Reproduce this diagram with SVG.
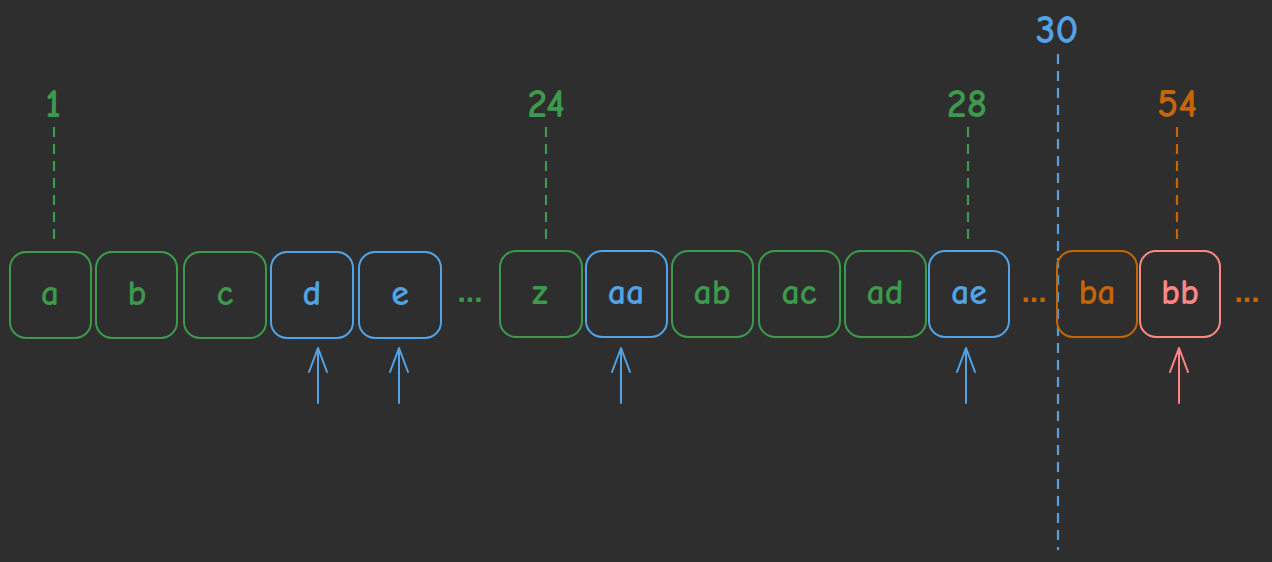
<svg xmlns="http://www.w3.org/2000/svg" width="1272" height="562" viewBox="0 0 1272 562">
<style>
.bg{fill:#2e2e2e}
.box{fill:none;stroke-width:2}
.g{stroke:#3d9a4c}
.b{stroke:#52a3e6}
.o{stroke:#c46508}
.r{stroke:#ff8787}
.t{font-family:"Comic Neue","Liberation Sans",sans-serif;font-size:36px;font-weight:bold;text-anchor:middle;dominant-baseline:central}
.tg{fill:#3d9a4c}.tb{fill:#52a3e6}.to{fill:#c46508}.tr{fill:#ff8787}
.num{font-family:"Comic Neue","Liberation Sans",sans-serif;font-size:40px;font-weight:bold;text-anchor:middle}
.dash{fill:none;stroke-width:2.2;stroke-dasharray:10 7}
.arr{fill:none;stroke-width:2;stroke-linecap:round;stroke-linejoin:round}
.dots{font-family:"Liberation Sans",sans-serif;font-size:30px;font-weight:bold;text-anchor:middle}
</style>
<rect class="bg" x="0" y="0" width="1272" height="562"/>
<g id="connectors">
<path class="dash g" d="M54 127V243"/>
<path class="dash g" d="M546 127V243"/>
<path class="dash g" d="M968 127V243"/>
<path class="dash o" d="M1177 127V243"/>
<path class="dash b" d="M1058 54V550"/>
<path class="arr b" d="M318 403V348M309 372L318 348L327 372"/>
<path class="arr b" d="M399 403V348M390 372L399 348L408 372"/>
<path class="arr b" d="M621 403V348M612 372L621 348L630 372"/>
<path class="arr b" d="M966 403V348M957 372L966 348L975 372"/>
<path class="arr r" d="M1179 403V348M1170 372L1179 348L1188 372"/>
</g>
<g id="label-1"><text class="num tg" x="53" y="117">1</text></g>
<g id="label-24"><text class="num tg" x="546" y="117">24</text></g>
<g id="label-28"><text class="num tg" x="967" y="117">28</text></g>
<g id="label-54"><text class="num to" x="1177" y="117">54</text></g>
<g id="label-30"><text class="num tb" x="1057" y="43">30</text></g>
<g id="node-a"><rect class="box g" x="10" y="252" width="81" height="86" rx="16"/><text class="t tg" x="50" y="293">a</text></g>
<g id="node-b"><rect class="box g" x="96" y="252" width="81" height="86" rx="16"/><text class="t tg" x="137" y="293">b</text></g>
<g id="node-c"><rect class="box g" x="184" y="252" width="82" height="86" rx="16"/><text class="t tg" x="225" y="293">c</text></g>
<g id="node-d"><rect class="box b" x="271" y="252" width="82" height="86" rx="16"/><text class="t tb" x="312" y="293">d</text></g>
<g id="node-e"><rect class="box b" x="359" y="252" width="82" height="86" rx="16"/><text class="t tb" x="400" y="293">e</text></g>
<g id="dots-1"><text class="dots tg" x="470" y="302">...</text></g>
<g id="node-z"><rect class="box g" x="500" y="251" width="82" height="86" rx="16"/><text class="t tg" x="540" y="292">z</text></g>
<g id="node-aa"><rect class="box b" x="586" y="251" width="81" height="86" rx="16"/><text class="t tb" x="626" y="292">aa</text></g>
<g id="node-ab"><rect class="box g" x="672" y="251" width="81" height="86" rx="16"/><text class="t tg" x="712" y="292">ab</text></g>
<g id="node-ac"><rect class="box g" x="759" y="251" width="81" height="86" rx="16"/><text class="t tg" x="799" y="292">ac</text></g>
<g id="node-ad"><rect class="box g" x="845" y="251" width="81" height="86" rx="16"/><text class="t tg" x="885" y="292">ad</text></g>
<g id="node-ae"><rect class="box b" x="929" y="251" width="80" height="86" rx="16"/><text class="t tb" x="969" y="292">ae</text></g>
<g id="dots-2"><text class="dots to" x="1034" y="302">...</text></g>
<g id="node-ba"><rect class="box o" x="1057" y="251" width="80" height="86" rx="16"/><text class="t to" x="1097" y="292">ba</text></g>
<g id="node-bb"><rect class="box r" x="1140" y="251" width="80" height="86" rx="16"/><text class="t tr" x="1180" y="292">bb</text></g>
<g id="dots-3"><text class="dots to" x="1247" y="302">...</text></g>
</svg>
